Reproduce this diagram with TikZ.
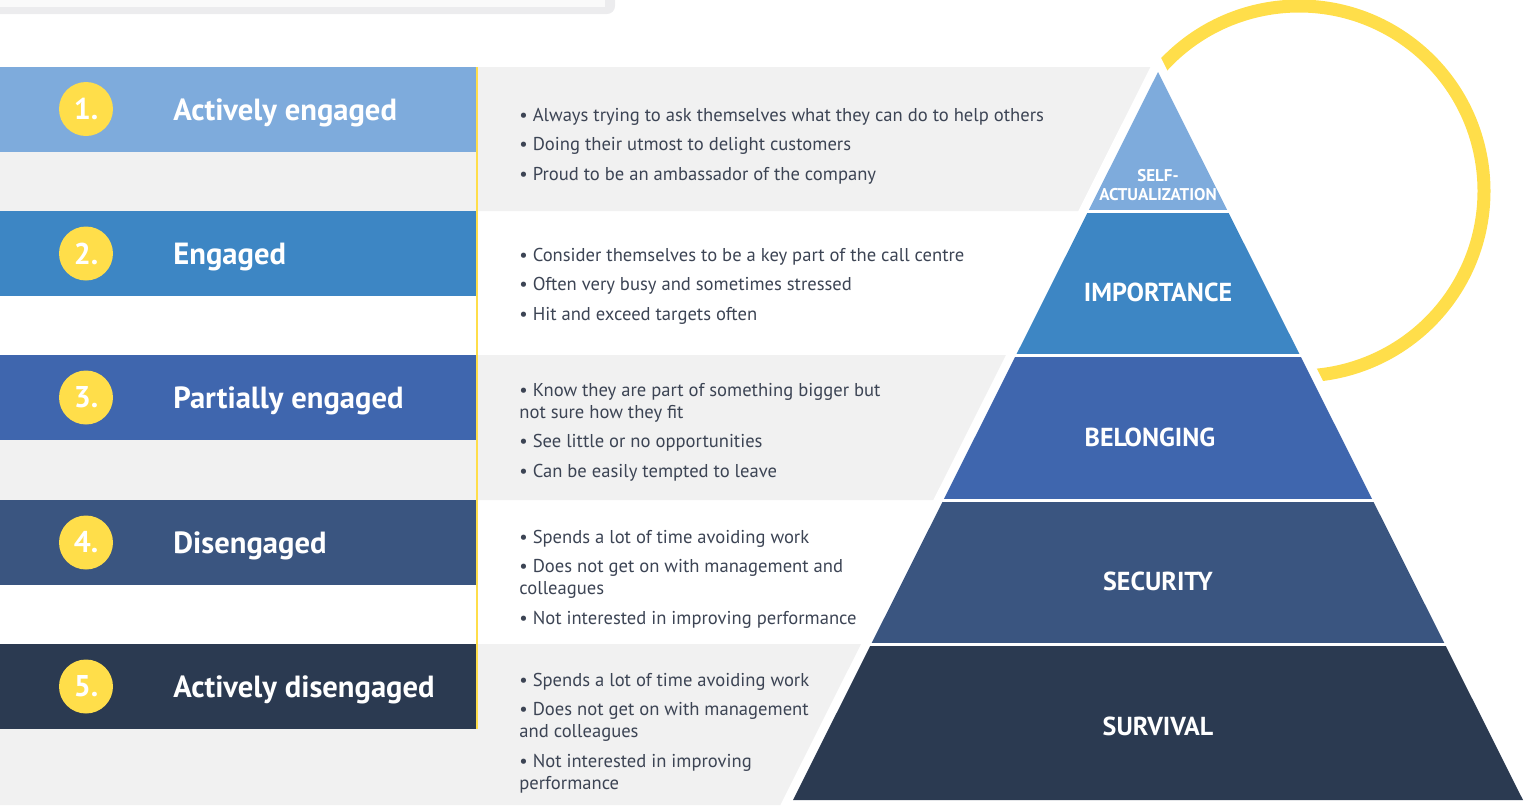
\documentclass[tikz,border=0pt]{standalone}
\usepackage{fontspec}
\setmainfont{PT Sans}

\definecolor{tierA}{HTML}{7EABDC}
\definecolor{tierB}{HTML}{3D86C4}
\definecolor{tierC}{HTML}{3F66AE}
\definecolor{tierD}{HTML}{3A5580}
\definecolor{tierE}{HTML}{2B3A51}
\definecolor{sunny}{HTML}{FFDE4A}
\definecolor{bandgrey}{HTML}{F1F1F1}
\definecolor{framegrey}{HTML}{ECECEE}
\definecolor{bodytext}{HTML}{3C4454}

\begin{document}
\begin{tikzpicture}[x=0.5pt, y=-0.5pt,
    bar/.style={anchor=north west, minimum width=238pt, minimum height=42.25pt, inner sep=0pt, outer sep=0pt},
    badge/.style={circle, fill=sunny, minimum size=27pt, inner sep=0pt, text=white, font=\bfseries\fontsize{15}{17}\selectfont},
    title/.style={anchor=base west, inner sep=0pt, text=white, font=\bfseries\fontsize{15.3}{18}\selectfont},
    bullets/.style={anchor=west, inner sep=0pt, align=left, text=bodytext, font=\fontsize{9.3}{11}\selectfont},
    level/.style={inner sep=0pt, align=center, text=white, font=\bfseries\fontsize{13}{15}\selectfont},
    ring/.style={draw=sunny, line width=6.5pt}
]
\useasboundingbox (0,0) rectangle (1533,805);

% frame of the box above
\fill[framegrey, rounded corners=4pt] (-20,-60) rectangle (615,14);
\fill[white!98!black] (-20,-60) rectangle (605,7);

% grey bands, cut at the left side of the pyramid
\fill[bandgrey] (0,67) -- (1160.5,67) -- (1088.3,211) -- (0,211) -- cycle;
\fill[bandgrey] (0,355) -- (1016.1,355) -- (943.4,500) -- (0,500) -- cycle;
\fill[bandgrey] (0,644) -- (871.2,644) -- (790.5,805) -- (0,805) -- cycle;

% coloured bars
\node[bar, fill=tierA] (bar1) at (0,67) {};
\node[bar, fill=tierB] (bar2) at (0,211) {};
\node[bar, fill=tierC] (bar3) at (0,355) {};
\node[bar, fill=tierD] (bar4) at (0,500) {};
\node[bar, fill=tierE] (bar5) at (0,644) {};
\draw[sunny, line width=1.3pt] (477,67) -- (477,729);

\node[badge] (num1) at (86,109) {1.};
\node[badge] (num2) at (86,253.5) {2.};
\node[badge] (num3) at (86,397.5) {3.};
\node[badge] (num4) at (86,542.5) {4.};
\node[badge] (num5) at (86,686.5) {5.};

\node[title] (head1) at (173,120) {Actively engaged};
\node[title] (head2) at (173,264.5) {Engaged};
\node[title] (head3) at (173,408.5) {Partially engaged};
\node[title] (head4) at (173,553.5) {Disengaged};
\node[title] (head5) at (173,697.5) {Actively disengaged};

% what each group does
\node[bullets] (text1) at (519,146) {• Always trying to ask themselves what they can do to help others\\[3.75pt]
  • Doing their utmost to delight customers\\[3.75pt]
  • Proud to be an ambassador of the company};
\node[bullets] (text2) at (519,286) {• Consider themselves to be a key part of the call centre\\[3.75pt]
  • Often very busy and sometimes stressed\\[3.75pt]
  • Hit and exceed targets often};
\node[bullets] (text3) at (519,432) {• Know they are part of something bigger but\\
  not sure how they fit\\[3.75pt]
  • See little or no opportunities\\[3.75pt]
  • Can be easily tempted to leave};
\node[bullets] (text4) at (519,579) {• Spends a lot of time avoiding work\\[3.75pt]
  • Does not get on with management and\\
  colleagues\\[3.75pt]
  • Not interested in improving performance};
\node[bullets] (text5) at (519,733) {• Spends a lot of time avoiding work\\[3.75pt]
  • Does not get on with management\\
  and colleagues\\[3.75pt]
  • Not interested in improving\\
  performance};

% yellow ring behind the pyramid
\draw[ring] (1299,191) ++(218:185) arc[start angle=218, end angle=455, radius=185];

% pyramid
\draw[white, line width=9pt] (1158,72) -- (1523,800) -- (793,800) -- cycle;
\fill[tierA] (1158,72) -- (1227.7,211) -- (1088.3,211) -- cycle;
\fill[tierB] (1088.3,211) -- (1227.7,211) -- (1299.9,355) -- (1016.1,355) -- cycle;
\fill[tierC] (1016.1,355) -- (1299.9,355) -- (1372.6,500) -- (943.4,500) -- cycle;
\fill[tierD] (943.4,500) -- (1372.6,500) -- (1444.8,644) -- (871.2,644) -- cycle;
\fill[tierE] (871.2,644) -- (1444.8,644) -- (1523,800) -- (793,800) -- cycle;
\draw[white, line width=1.5pt] (1080,211) -- (1236,211);
\draw[white, line width=1.5pt] (1008,355) -- (1308,355);
\draw[white, line width=1.5pt] (935,500) -- (1381,500);
\draw[white, line width=1.5pt] (863,644) -- (1453,644);

\node[level, font=\bfseries\fontsize{8.5}{9.5}\selectfont] (self) at (1158,185) {SELF-\\ACTUALIZATION};
\node[level] (importance) at (1158,292) {IMPORTANCE};
\node[level] (belonging) at (1150,437) {BELONGING};
\node[level] (security) at (1158,581) {SECURITY};
\node[level] (survival) at (1158,726) {SURVIVAL};

\end{tikzpicture}
\end{document}
